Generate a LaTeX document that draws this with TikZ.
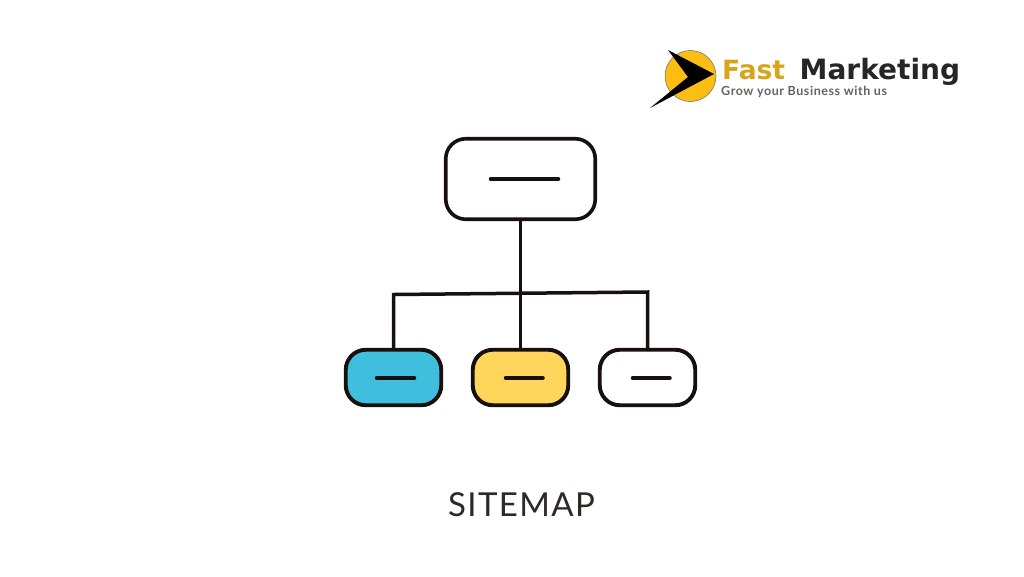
\documentclass[tikz,border=0pt]{standalone}
\usepackage{fontspec}
\setmainfont{Lato}
\newfontfamily\capsfont[LetterSpace=4.2]{Lato}
\newfontfamily\logofont{DejaVu Sans}
\newfontfamily\tagfont[LetterSpace=4.5]{Lato}
\definecolor{ink}{HTML}{17100F}
\definecolor{skyfill}{HTML}{40BEDD}
\definecolor{sunfill}{HTML}{FFD65C}
\definecolor{logoyellow}{HTML}{FDBE14}
\definecolor{logogold}{HTML}{D8A41A}
\definecolor{taggray}{HTML}{65635F}
\tikzset{
  x=1pt,y=-1pt,
  bigbox/.style={draw=ink,line width=3.6pt,fill=white,rounded corners=20pt,minimum width=149.5pt,minimum height=80.5pt,inner sep=0pt,outer sep=0pt},
  smallbox/.style={draw=ink,line width=3.9pt,rounded corners=20pt,minimum width=95.5pt,minimum height=55.5pt,inner sep=0pt,outer sep=0pt},
  dashmark/.style={ink,line width=3.5pt,line cap=round},
  link/.style={ink,line width=3.5pt}
}
\begin{document}
\begin{tikzpicture}
\useasboundingbox (0,0) rectangle (1024,576);
\fill[white] (0,0) rectangle (1024,576);
\node[bigbox] (root) at (520.5,179) {};
\node[smallbox,fill=skyfill] (a) at (393.5,377.5) {};
\node[smallbox,fill=sunfill] (b) at (520.5,377.5) {};
\node[smallbox,fill=white] (c) at (647.5,377.5) {};
\coordinate (hl) at (393.5,294.5);
\coordinate (hr) at (647.5,292);
\draw[link] (root.south) -- (b.north);
\draw[link] (a.north) -- (hl) -- (hr) -- (c.north);
% dashes
\draw[dashmark] (490.5,179) -- (558.5,179);
\draw[dashmark] (376.5,378) -- (414.5,378);
\draw[dashmark] (505.5,378) -- (543,378);
\draw[dashmark] (632.5,378) -- (670,378);
% label
\node[inner sep=0pt,text=ink!90!white,font=\fontsize{33}{33}\selectfont\capsfont] (title) at (521.5,505) {SITEMAP};
% logo
\fill[logoyellow] (690.5,76) circle (25.5);
\draw[black!60,line width=0.5pt] (690.5,76) circle (25.5);
\fill[black] (668,50) -- (714,74) -- (650,108) -- (688,77) -- cycle;
\node[anchor=base west,inner sep=0pt,text=logogold,font=\fontsize{26.5}{26.5}\selectfont\logofont\bfseries] (fast) at (722,79) {Fast};
\node[anchor=base west,inner sep=0pt,text=black!85,font=\fontsize{28}{28}\selectfont\logofont\bfseries] (mkt) at (799.5,79) {Marketing};
\node[anchor=base west,inner sep=0pt,text=taggray,font=\fontsize{12.5}{12.5}\selectfont\tagfont\bfseries] (tag) at (721,95) {Grow your Business with us};
\end{tikzpicture}
\end{document}
